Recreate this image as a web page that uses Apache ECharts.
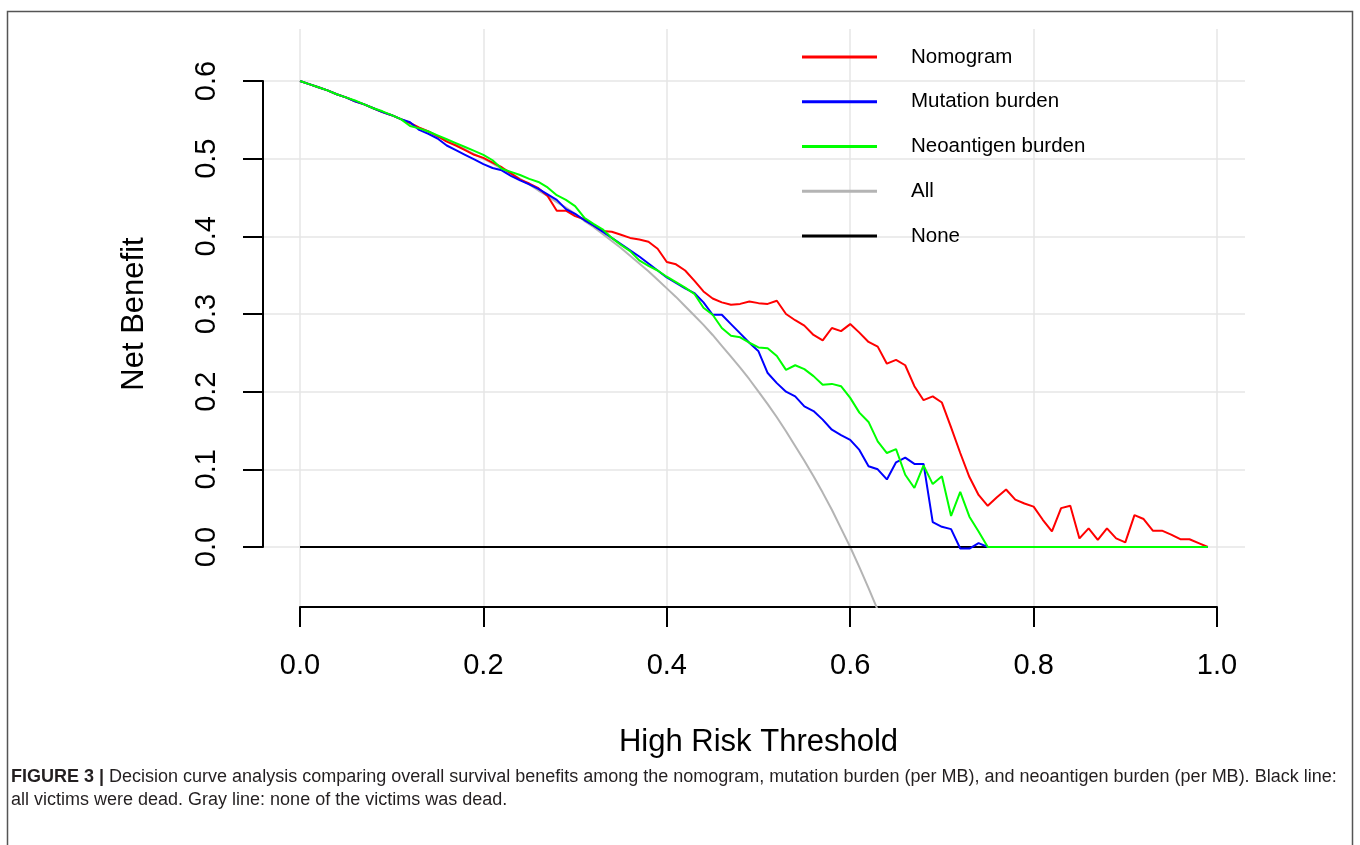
<!DOCTYPE html>
<html>

<head>
    <meta charset="utf-8">
    <script src="https://cdn.jsdelivr.net/npm/echarts@6/dist/echarts.min.js"></script>
    <style>
        body { margin: 0; background: #fff; }
    </style>
</head>

<body>
    <div id="main" style="width: 1360px;height:845px;"></div>
    <script type="text/javascript">
        // threshold grid (x), one value per 0.01
        var thresholds = [
            0.00, 0.01, 0.02, 0.03, 0.04, 0.05, 0.06, 0.07, 0.08, 0.09,
            0.10, 0.11, 0.12, 0.13, 0.14, 0.15, 0.16, 0.17, 0.18, 0.19,
            0.20, 0.21, 0.22, 0.23, 0.24, 0.25, 0.26, 0.27, 0.28, 0.29,
            0.30, 0.31, 0.32, 0.33, 0.34, 0.35, 0.36, 0.37, 0.38, 0.39,
            0.40, 0.41, 0.42, 0.43, 0.44, 0.45, 0.46, 0.47, 0.48, 0.49,
            0.50, 0.51, 0.52, 0.53, 0.54, 0.55, 0.56, 0.57, 0.58, 0.59,
            0.60, 0.61, 0.62, 0.63, 0.64, 0.65, 0.66, 0.67, 0.68, 0.69,
            0.70, 0.71, 0.72, 0.73, 0.74, 0.75, 0.76, 0.77, 0.78, 0.79,
            0.80, 0.81, 0.82, 0.83, 0.84, 0.85, 0.86, 0.87, 0.88, 0.89,
            0.90, 0.91, 0.92, 0.93, 0.94, 0.95, 0.96, 0.97, 0.98, 0.99
        ];

        var nomogram = [
            0.600, 0.596, 0.592, 0.588, 0.583, 0.579, 0.574, 0.570, 0.565, 0.560,
            0.556, 0.551, 0.546, 0.540, 0.535, 0.529, 0.522, 0.517, 0.511, 0.505,
            0.501, 0.495, 0.489, 0.481, 0.473, 0.468, 0.462, 0.452, 0.433, 0.433,
            0.426, 0.422, 0.414, 0.407, 0.406, 0.402, 0.398, 0.396, 0.393, 0.384,
            0.367, 0.364, 0.356, 0.343, 0.329, 0.320, 0.315, 0.312, 0.313, 0.316,
            0.314, 0.313, 0.317, 0.300, 0.292, 0.285, 0.273, 0.266, 0.282, 0.278,
            0.287, 0.276, 0.264, 0.258, 0.236, 0.241, 0.234, 0.207, 0.189, 0.194,
            0.186, 0.154, 0.121, 0.090, 0.067, 0.053, 0.064, 0.074, 0.061, 0.056,
            0.052, 0.035, 0.020, 0.050, 0.053, 0.011, 0.024, 0.009, 0.024, 0.011,
            0.006, 0.041, 0.036, 0.021, 0.021, 0.016, 0.010, 0.010, 0.005, 0.000
        ];

        var mutationBurden = [
            0.600, 0.596, 0.592, 0.588, 0.583, 0.579, 0.574, 0.570, 0.565, 0.560,
            0.556, 0.551, 0.547, 0.537, 0.532, 0.526, 0.517, 0.511, 0.505, 0.499,
            0.493, 0.488, 0.485, 0.478, 0.472, 0.467, 0.461, 0.454, 0.447, 0.435,
            0.429, 0.421, 0.414, 0.406, 0.398, 0.390, 0.382, 0.374, 0.365, 0.356,
            0.347, 0.340, 0.333, 0.327, 0.315, 0.299, 0.299, 0.287, 0.275, 0.263,
            0.252, 0.224, 0.211, 0.200, 0.194, 0.181, 0.175, 0.164, 0.151, 0.144,
            0.138, 0.125, 0.104, 0.100, 0.087, 0.109, 0.115, 0.107, 0.107, 0.032,
            0.026, 0.023, -0.002, -0.002, 0.005, 0, 0, 0, 0, 0,
            0, 0, 0, 0, 0, 0, 0, 0, 0, 0,
            0, 0, 0, 0, 0, 0, 0, 0, 0, 0
        ];

        var neoantigenBurden = [
            0.600, 0.596, 0.592, 0.588, 0.583, 0.579, 0.575, 0.570, 0.565, 0.561,
            0.556, 0.551, 0.542, 0.539, 0.535, 0.530, 0.525, 0.520, 0.515, 0.510,
            0.505, 0.498, 0.487, 0.483, 0.479, 0.474, 0.470, 0.463, 0.453, 0.447,
            0.439, 0.424, 0.416, 0.409, 0.398, 0.389, 0.381, 0.369, 0.362, 0.356,
            0.348, 0.341, 0.334, 0.326, 0.308, 0.299, 0.282, 0.272, 0.270, 0.263,
            0.257, 0.256, 0.246, 0.228, 0.234, 0.229, 0.220, 0.209, 0.210, 0.207,
            0.192, 0.173, 0.161, 0.136, 0.121, 0.126, 0.093, 0.076, 0.105, 0.081,
            0.091, 0.040, 0.071, 0.039, 0.020, 0, 0, 0, 0, 0,
            0, 0, 0, 0, 0, 0, 0, 0, 0, 0,
            0, 0, 0, 0, 0, 0, 0, 0, 0, 0
        ];

        // treat-all curve, read up to where it leaves the plot
        var allCurve = [
            0.600, 0.596, 0.592, 0.588, 0.583, 0.579, 0.574, 0.570, 0.565, 0.560,
            0.556, 0.551, 0.545, 0.540, 0.535, 0.529, 0.524, 0.518, 0.512, 0.506,
            0.500, 0.494, 0.487, 0.481, 0.474, 0.467, 0.459, 0.452, 0.444, 0.437,
            0.429, 0.420, 0.412, 0.403, 0.394, 0.385, 0.375, 0.365, 0.355, 0.344,
            0.333, 0.322, 0.310, 0.298, 0.286, 0.273, 0.259, 0.245, 0.231, 0.216,
            0.200, 0.184, 0.167, 0.149, 0.130, 0.111, 0.091, 0.070, 0.048, 0.024,
            0.000, -0.026, -0.053, -0.081
        ];

        var noneX = [0, 0.99];
        var noneY = [0, 0];

        var xTicks = [0, 0.2, 0.4, 0.6, 0.8, 1.0];
        var yTicks = [0, 0.1, 0.2, 0.3, 0.4, 0.5, 0.6];

        function pairs(xs, ys) {
            return ys.map(function (v, i) { return [xs[i], v]; });
        }

        var FONT = '"Liberation Sans", Arial, Helvetica, sans-serif';
        // plain bar for the legend keys, no marker
        var KEY_ICON = 'path://M0 0H75V3H0Z';

        var myChart = echarts.init(document.getElementById('main'));

        var option = {
            animation: false,
            backgroundColor: '#fff',
            textStyle: { fontFamily: FONT },
            grid: [
                // plot area: x axis drawn from 0 to 1, y extends below 0
                { left: 300, right: 143, top: 29, bottom: 238 },
                // y axis frame: 0 to 0.6 only
                { left: 263, right: 115, top: 81, bottom: 298 }
            ],
            xAxis: [{
                type: 'value', gridIndex: 0,
                min: xTicks[0], max: xTicks[xTicks.length - 1], interval: 0.2,
                axisLine: { show: true, onZero: false, lineStyle: { color: '#000', width: 2 } },
                axisTick: { show: true, length: 20, lineStyle: { color: '#000', width: 2 } },
                axisLabel: {
                    fontSize: 29, color: '#000', margin: 44, fontFamily: FONT,
                    formatter: function (v) { return v.toFixed(1); }
                },
                splitLine: { show: true, lineStyle: { color: '#e6e6e6', width: 1.5 } },
                name: 'High Risk Threshold',
                nameLocation: 'middle',
                nameGap: 120,
                nameTextStyle: { fontSize: 31, color: '#000', fontFamily: FONT }
            }, {
                type: 'value', gridIndex: 1, min: 0, max: 1, show: false
            }],
            yAxis: [{
                type: 'value', gridIndex: 0, min: -0.0773, max: 0.667, show: false
            }, {
                type: 'value', gridIndex: 1,
                min: yTicks[0], max: yTicks[yTicks.length - 1], interval: 0.1,
                axisLine: { show: true, onZero: false, lineStyle: { color: '#000', width: 2 } },
                axisTick: { show: true, length: 20, lineStyle: { color: '#000', width: 2 } },
                axisLabel: {
                    fontSize: 29, color: '#000', margin: 42, rotate: 90, fontFamily: FONT,
                    formatter: function (v) { return v.toFixed(1); }
                },
                splitLine: { show: true, lineStyle: { color: '#e6e6e6', width: 1.5 } },
                name: 'Net Benefit',
                nameLocation: 'middle',
                nameGap: 113,
                nameRotate: 90,
                nameTextStyle: { fontSize: 31, color: '#000', fontFamily: FONT }
            }],
            legend: {
                data: ['Nomogram', 'Mutation burden', 'Neoantigen burden', 'All', 'None'],
                orient: 'vertical',
                left: 802,
                top: 45,
                padding: 0,
                icon: KEY_ICON,
                itemWidth: 75,
                itemHeight: 24,
                itemGap: 20.75,
                selectedMode: false,
                textStyle: { fontSize: 20.5, color: '#000', lineHeight: 24, padding: [0, 0, 0, 29], fontFamily: FONT }
            },
            series: [{
                name: 'All', type: 'line', xAxisIndex: 0, yAxisIndex: 0,
                data: pairs(thresholds, allCurve),
                symbol: 'none', clip: true,
                lineStyle: { color: '#b4b4b4', width: 2 }, itemStyle: { color: '#b4b4b4' }
            }, {
                name: 'None', type: 'line', xAxisIndex: 0, yAxisIndex: 0,
                data: pairs(noneX, noneY),
                symbol: 'none',
                lineStyle: { color: '#000', width: 2 }, itemStyle: { color: '#000' }
            }, {
                name: 'Nomogram', type: 'line', xAxisIndex: 0, yAxisIndex: 0,
                data: pairs(thresholds, nomogram),
                symbol: 'none',
                lineStyle: { color: '#ff0000', width: 2 }, itemStyle: { color: '#ff0000' }
            }, {
                name: 'Mutation burden', type: 'line', xAxisIndex: 0, yAxisIndex: 0,
                data: pairs(thresholds, mutationBurden),
                symbol: 'none',
                lineStyle: { color: '#0000ff', width: 2 }, itemStyle: { color: '#0000ff' }
            }, {
                name: 'Neoantigen burden', type: 'line', xAxisIndex: 0, yAxisIndex: 0,
                data: pairs(thresholds, neoantigenBurden),
                symbol: 'none',
                lineStyle: { color: '#00ff00', width: 2 }, itemStyle: { color: '#00ff00' }
            }],
            graphic: [{
                type: 'rect',
                shape: { x: 7.5, y: 11.5, width: 1345, height: 850 },
                style: { fill: 'none', stroke: '#555', lineWidth: 1.5 },
                silent: true
            }, {
                type: 'text', x: 11, y: 777,
                style: {
                    text: '{b|FIGURE 3 |} Decision curve analysis comparing overall survival benefits among the nomogram, mutation burden (per MB), and neoantigen burden (per MB). Black line:',
                    rich: { b: { fontWeight: 'bold', fontSize: 18, fill: '#231f20', fontFamily: FONT } },
                    fontSize: 18, fill: '#231f20', fontFamily: FONT, verticalAlign: 'middle'
                }
            }, {
                type: 'text', x: 11, y: 800,
                style: {
                    text: 'all victims were dead. Gray line: none of the victims was dead.',
                    fontSize: 18, fill: '#231f20', fontFamily: FONT, verticalAlign: 'middle'
                }
            }]
        };

        myChart.setOption(option);
    </script>
</body>

</html>
